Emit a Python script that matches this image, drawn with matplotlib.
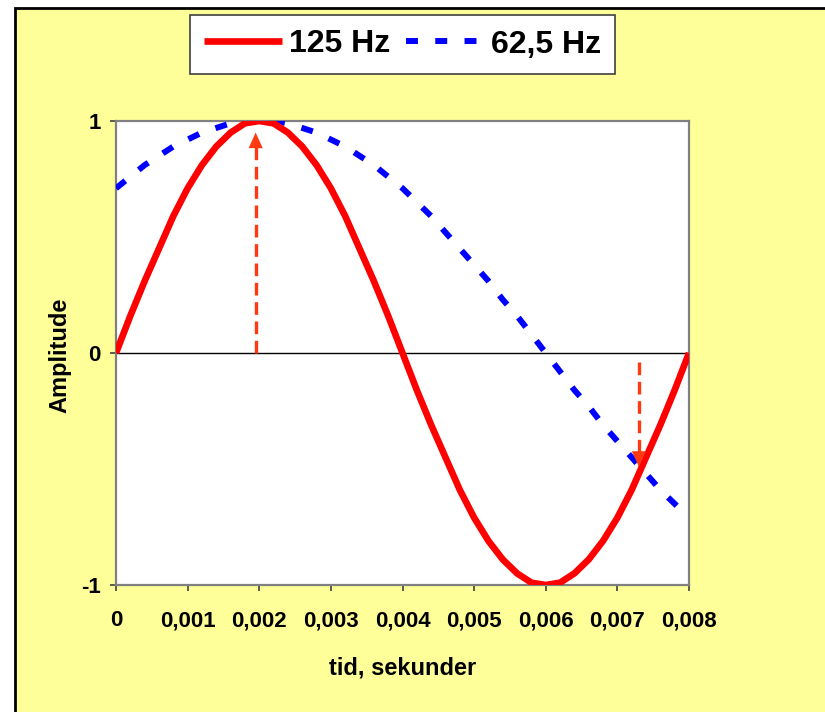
import matplotlib
matplotlib.use("Agg")
import matplotlib.pyplot as plt
from matplotlib.patches import Rectangle

# ---- data ----
time_s = [0.0000, 0.0002, 0.0004, 0.0006, 0.0008, 0.0010, 0.0012, 0.0014, 0.0016, 0.0018,
          0.0020, 0.0022, 0.0024, 0.0026, 0.0028, 0.0030, 0.0032, 0.0034, 0.0036, 0.0038,
          0.0040, 0.0042, 0.0044, 0.0046, 0.0048, 0.0050, 0.0052, 0.0054, 0.0056, 0.0058,
          0.0060, 0.0062, 0.0064, 0.0066, 0.0068, 0.0070, 0.0072, 0.0074, 0.0076, 0.0078,
          0.0080]
amp_125 = [0.00, 0.16, 0.31, 0.45, 0.59, 0.71, 0.81, 0.89, 0.95, 0.99,
           1.00, 0.99, 0.95, 0.89, 0.81, 0.71, 0.59, 0.45, 0.31, 0.16,
           0.00, -0.16, -0.31, -0.45, -0.59, -0.71, -0.81, -0.89, -0.95, -0.99,
           -1.00, -0.99, -0.95, -0.89, -0.81, -0.71, -0.59, -0.45, -0.31, -0.16,
           0.00]
amp_62_5 = [0.71, 0.76, 0.81, 0.85, 0.89, 0.92, 0.95, 0.97, 0.99, 1.00,
            1.00, 1.00, 0.99, 0.97, 0.95, 0.92, 0.89, 0.85, 0.81, 0.76,
            0.71, 0.65, 0.59, 0.52, 0.45, 0.38, 0.31, 0.23, 0.16, 0.08,
            0.00, -0.08, -0.16, -0.23, -0.31, -0.38, -0.45, -0.52, -0.59, -0.65,
            -0.71]
series_labels = ["125 Hz", "62,5 Hz"]
x_ticks = [0, 0.001, 0.002, 0.003, 0.004, 0.005, 0.006, 0.007, 0.008]
x_tick_labels = ["0", "0,001", "0,002", "0,003", "0,004", "0,005", "0,006", "0,007", "0,008"]
y_ticks = [-1, 0, 1]
y_tick_labels = ["-1", "0", "1"]
# annotation arrows: (x, start y, tip y)
arrow_x = [0.00195, 0.0073]
arrow_start = [0.0, -0.04]
arrow_tip = [0.95, -0.49]
x_title = "tid, sekunder"
y_title = "Amplitude"

W, H = 825, 712
fig = plt.figure(figsize=(W / 100, H / 100), dpi=100, facecolor="white")

# yellow chart area with black top/left border
bg = Rectangle((15 / W, -0.05), 1.1, 1 - 8 / H + 0.05, transform=fig.transFigure,
               facecolor="#FFFF99", edgecolor="black", linewidth=2, zorder=-10)
fig.patches.append(bg)

left, right, top, bottom = 116, 689, 121, 585
ax = fig.add_axes([left / W, 1 - bottom / H, (right - left) / W, (bottom - top) / H])
ax.set_facecolor("white")

RED = "#FF0000"
BLUE = "#0000FF"
ARW = "#FF3A10"

l1, = ax.plot(time_s, amp_125, color=RED, lw=4.8, solid_joinstyle="miter",
              solid_capstyle="butt", zorder=4, label=series_labels[0])
l2, = ax.plot(time_s, amp_62_5, color=BLUE, lw=4.3, dashes=(2.0, 2.9),
              dash_capstyle="butt", zorder=3, label=series_labels[1])

ax.axhline(0, color="black", lw=1.0, zorder=2)

for xa, ys, yt in zip(arrow_x, arrow_start, arrow_tip):
    dy = 0.08 if yt > ys else -0.08
    ax.plot([xa, xa], [ys, yt - dy * 0.6], color=ARW, lw=2.4, dashes=(3.8, 2.0), zorder=5)
    ax.annotate("", xy=(xa, yt), xytext=(xa, yt - dy),
                arrowprops=dict(arrowstyle="-|>,head_width=0.5,head_length=1.1",
                                color=ARW, lw=0.1, shrinkA=0, shrinkB=0), zorder=6)

ax.set_xlim(0, 0.008)
ax.set_ylim(-1, 1)
ax.set_xticks(x_ticks)
ax.set_xticklabels(x_tick_labels)
ax.set_yticks(y_ticks)
ax.set_yticklabels(y_tick_labels)

for s in ax.spines.values():
    s.set_color("#808080")
    s.set_linewidth(1.6)

ax.tick_params(axis="both", direction="out", length=4, width=1.2, color="#404040")
ax.tick_params(axis="x", pad=14)
ax.tick_params(axis="y", pad=7)
for lab in ax.get_xticklabels() + ax.get_yticklabels():
    lab.set_fontfamily("Liberation Sans")
    lab.set_fontweight("bold")
    lab.set_fontsize(16)

fig.text(402.5 / W, 1 - 668 / H, x_title, ha="center", va="center",
         family="Liberation Sans", weight="bold", size=17)
fig.text(60 / W, 1 - 355 / H, y_title, ha="center", va="center", rotation=90,
         family="Liberation Sans", weight="bold", size=17)

leg = ax.legend(handles=[l1, l2], labels=series_labels, ncol=2, loc="center",
                bbox_to_anchor=(402.5 / W, 1 - 44.5 / H), bbox_transform=fig.transFigure,
                frameon=True, fancybox=False, framealpha=1, edgecolor="#404040",
                prop=dict(family="Liberation Sans", weight="bold", size=23),
                handlelength=2.45, handletextpad=0.2, columnspacing=0.5,
                borderpad=0.45, borderaxespad=0)
leg.get_frame().set_linewidth(1.2)

fig.savefig("out.png", dpi=100, facecolor="white")
